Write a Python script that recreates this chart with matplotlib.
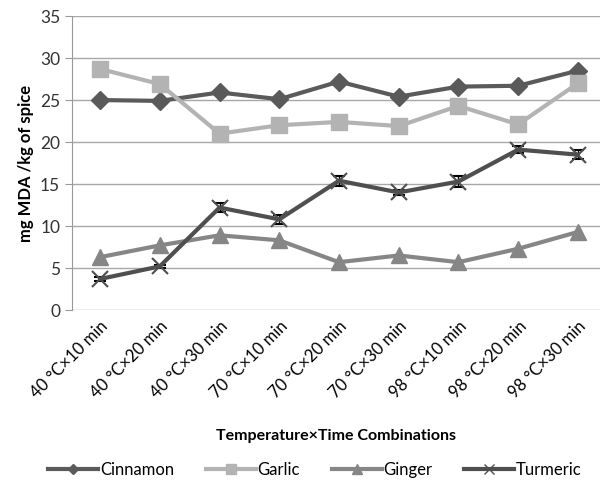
import matplotlib.pyplot as plt

plt.rcParams['font.family'] = ['Lato', 'DejaVu Sans']

categorias = ['40 °C×10 min', '40 °C×20 min', '40 °C×30 min',
              '70 °C×10 min', '70 °C×20 min', '70 °C×30 min',
              '98 °C×10 min', '98 °C×20 min', '98 °C×30 min']
cinnamon = [25.0, 24.9, 25.9, 25.1, 27.2, 25.4, 26.6, 26.7, 28.5]
garlic = [28.7, 26.9, 21.0, 22.0, 22.4, 21.9, 24.3, 22.1, 27.0]
ginger = [6.3, 7.7, 8.9, 8.3, 5.7, 6.5, 5.7, 7.3, 9.3]
turmeric = [3.7, 5.2, 12.2, 10.8, 15.4, 14.0, 15.3, 19.1, 18.5]
turmeric_err = [0.2, 0.2, 0.5, 0.5, 0.6, 0.3, 0.6, 0.4, 0.5]

fig = plt.figure(figsize=(6, 4.86), dpi=100)
ax = fig.add_axes([0.12, 0.362, 0.88, 0.605])

x = range(len(categorias))
ax.plot(x, cinnamon, color='#5a5a5a', lw=3, marker='D', ms=9, label='Cinnamon', zorder=3)
ax.plot(x, garlic, color='#b3b3b3', lw=3, marker='s', ms=11, label='Garlic', zorder=3)
ax.plot(x, ginger, color='#868686', lw=3, marker='^', ms=12, label='Ginger', zorder=3)
ax.errorbar(x, turmeric, yerr=turmeric_err, color='#4f4f4f', lw=3, marker='x', ms=11,
            mew=1.5, ecolor='black', elinewidth=1, capsize=4, zorder=3)
# linea aparte para la leyenda (sin barras de error)
ax.plot([], [], color='#4f4f4f', lw=3, marker='x', ms=11, mew=1, label='Turmeric')

ax.set_ylim(0, 35)
ax.set_yticks(range(0, 36, 5))
ax.set_xlim(-0.47, 8.37)
ax.set_xticks(list(x))
ax.set_xticklabels(categorias, rotation=45, ha='right', rotation_mode='anchor', fontsize=12)
ax.tick_params(axis='x', length=0, pad=6)
ax.tick_params(axis='y', labelsize=12.5, colors='#333333', length=5, color='#999999')
ax.grid(axis='y', color='#a8a8a8', lw=1)
ax.set_axisbelow(True)
for s in ['top', 'right', 'bottom']:
    ax.spines[s].set_visible(False)
ax.spines['left'].set_color('#999999')

ax.set_ylabel('mg MDA /kg of spice', fontsize=12, fontweight='bold')
fig.text(0.56, 0.095, 'Temperature×Time Combinations', ha='center', fontsize=11.5, fontweight='bold')

handles, labels = ax.get_legend_handles_labels()
fig.legend(handles, labels, loc='lower center', bbox_to_anchor=(0.525, -0.015), ncol=4,
           frameon=False, fontsize=12, handlelength=3.0, handletextpad=0.1,
           columnspacing=1.9, markerscale=0.6)

fig.savefig('out.png', dpi=100)
